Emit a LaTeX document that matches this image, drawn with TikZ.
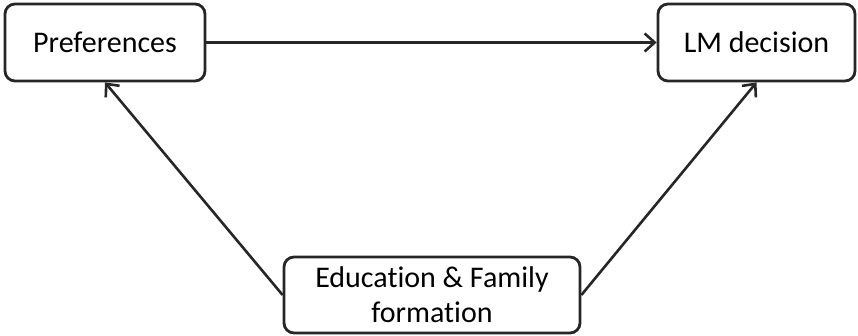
\documentclass[tikz,border=0pt]{standalone}
\usepackage{fontspec}
\setmainfont[Ligatures={NoCommon}]{Carlito}
\usetikzlibrary{arrows.meta}
\begin{document}
\begin{tikzpicture}[x=1pt,y=-1pt,
  box/.style={draw=black!85, line width=2.8pt, rounded corners=10pt, fill=white,
    inner sep=0pt, align=center, font=\fontsize{30}{35}\selectfont},
  link/.style={draw=black!85, line width=2.6pt, -{Straight Barb[length=10pt,width=18pt,line width=2.6pt]}}]
  \useasboundingbox (0,0) rectangle (858,336);
  \node[box, minimum width=200pt, minimum height=77pt] (pref) at (105,42.5) {Preferences};
  \node[box, minimum width=197pt, minimum height=77pt] (lm) at (756.5,42.5) {LM decision};
  \node[box, minimum width=296pt, minimum height=76pt] (edu) at (432,295) {Education \& Family\\formation};
  \draw[link] (pref.east) -- (lm.west);
  \draw[link] (edu.west) -- (pref.south);
  \draw[link] (edu.east) -- (lm.south);
\end{tikzpicture}
\end{document}
